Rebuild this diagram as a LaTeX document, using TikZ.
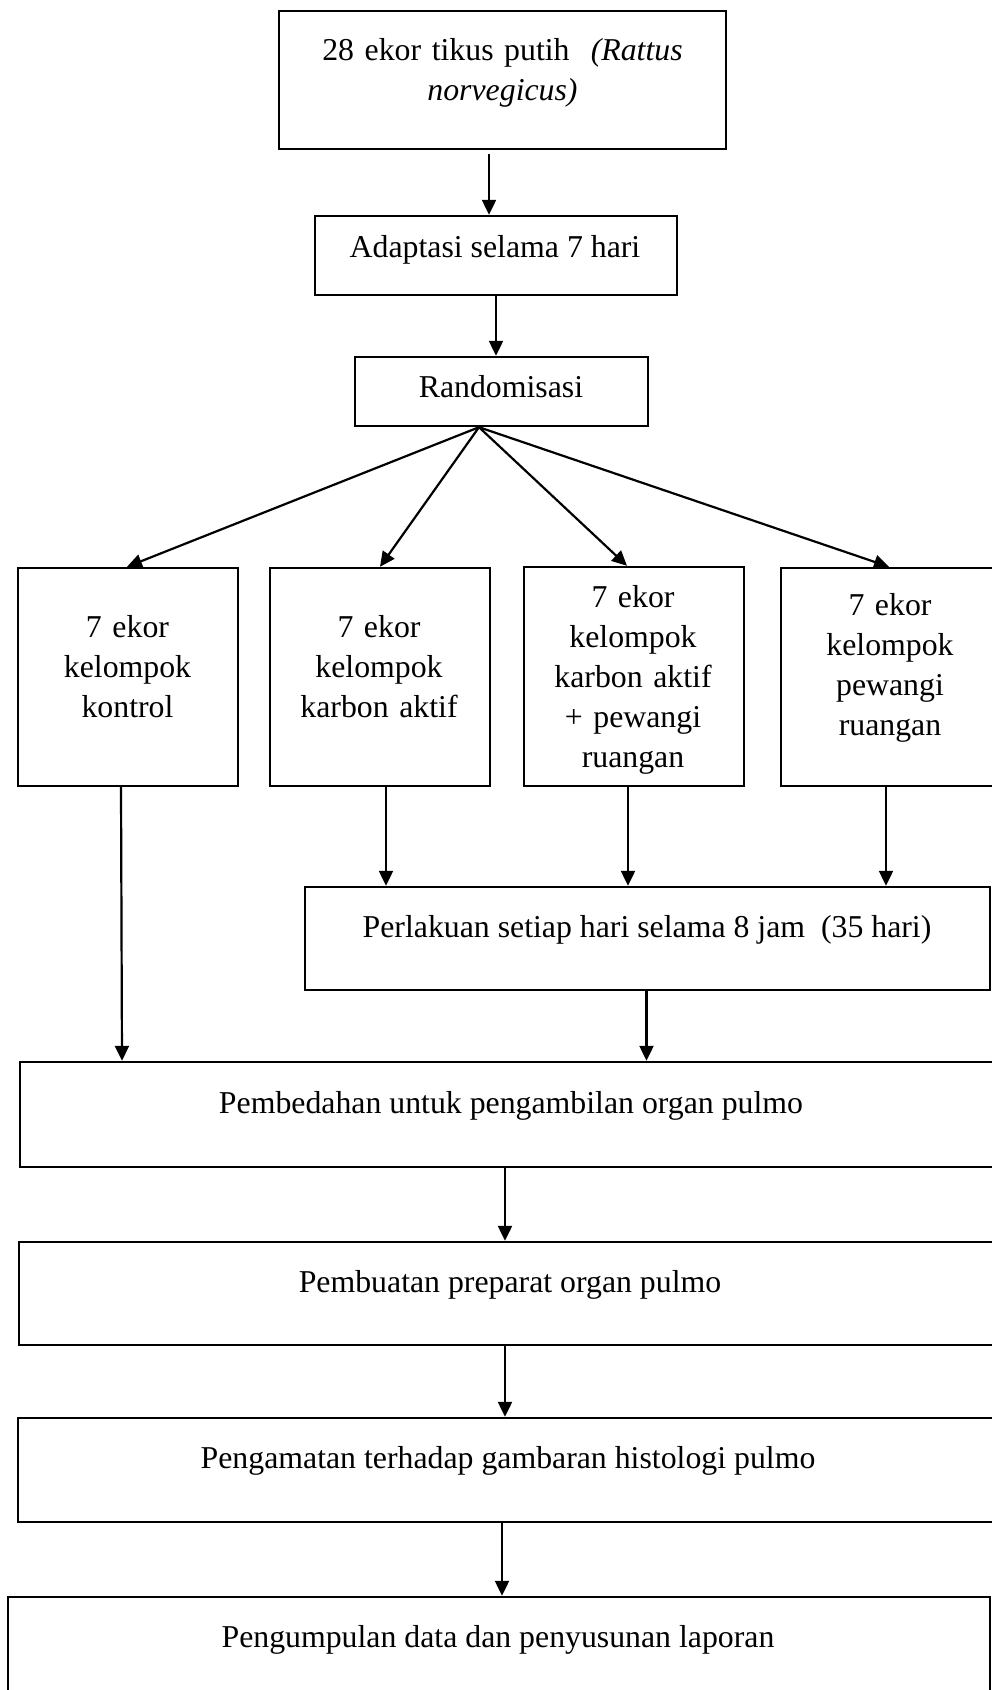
\documentclass[tikz,border=0pt]{standalone}
\usepackage{fontspec}
\setmainfont{Liberation Serif}
\usetikzlibrary{arrows.meta}
\tikzset{
  box/.style={draw, line width=2.4pt, inner sep=0pt},
  txt/.style={inner sep=0pt, font=\fontsize{31.8pt}{40pt}\selectfont},
  mtxt/.style={txt, text width=#1, align=center},
  arr/.style={line width=2.2pt, -{Triangle[length=15pt,width=14pt]}}
}
\begin{document}
\begin{tikzpicture}[x=1pt,y=-1pt]
\useasboundingbox (0,0) rectangle (992,1690);
\clip (0,0) rectangle (992,1690);
\fill[white] (0,0) rectangle (992,1690);
% boxes
\node[box, minimum width=447pt, minimum height=138pt] (n1) at (502.5,80) {};
\node[box, minimum width=362pt, minimum height=79pt] (n2) at (496,255.5) {};
\node[box, minimum width=293pt, minimum height=69pt] (n3) at (501.5,391.5) {};
\node[box, minimum width=220pt, minimum height=218pt] (gA) at (128,677) {};
\node[box, minimum width=220pt, minimum height=218pt] (gB) at (380,677) {};
\node[box, minimum width=220pt, minimum height=219pt] (gC) at (634,676.5) {};
\node[box, minimum width=220pt, minimum height=218pt] (gD) at (891,677) {};
\node[box, minimum width=685pt, minimum height=103pt] (pP) at (647.5,938.5) {};
\node[box, minimum width=982pt, minimum height=105pt] (pE) at (511,1114.5) {};
\node[box, minimum width=982pt, minimum height=103pt] (pF) at (510,1293.5) {};
\node[box, minimum width=981pt, minimum height=104pt] (pG) at (508.5,1470) {};
\node[box, minimum width=982pt, minimum height=113pt] (pH) at (499,1653.5) {};
% texts
\node[mtxt=430pt, anchor=base] (t1) at (502.5,60) {28 ekor tikus putih\ \ \textit{(Rattus}\\\textit{norvegicus)}};
\node[txt, anchor=base] (t2) at (495,257) {Adaptasi selama 7 hari};
\node[txt, anchor=base] (t3) at (501,397) {Randomisasi};
\node[mtxt=200pt, anchor=base] (tA) at (127.5,637) {7 ekor\\kelompok\\kontrol};
\node[mtxt=200pt, anchor=base] (tB) at (379,637) {7 ekor\\kelompok\\karbon aktif};
\node[mtxt=200pt, anchor=base] (tC) at (633,607) {7 ekor\\kelompok\\karbon aktif\\+ pewangi\\ruangan};
\node[mtxt=200pt, anchor=base] (tD) at (890,615) {7 ekor\\kelompok\\pewangi\\ruangan};
\node[txt, anchor=base] (tP) at (647,937) {Perlakuan setiap hari selama 8 jam\ \ (35 hari)};
\node[txt, anchor=base] (tE) at (511,1113) {Pembedahan untuk pengambilan organ pulmo};
\node[txt, anchor=base] (tF) at (510,1292) {Pembuatan preparat organ pulmo};
\node[txt, anchor=base] (tG) at (508,1468) {Pengamatan terhadap gambaran histologi pulmo};
\node[txt, anchor=base] (tH) at (498,1647) {Pengumpulan data dan penyusunan laporan};
% connectors
\draw[arr] ([xshift=-13.5pt,yshift=-4pt]n1.south) -- ([xshift=-13.5pt]n1.south |- n2.north);
\draw[arr] (n2.south) -- (n2.south |- n3.north);
\draw[arr] ([xshift=-22.5pt]n3.south) -- ([xshift=-1pt]gA.north);
\draw[arr] ([xshift=-22.5pt]n3.south) -- (gB.north);
\draw[arr] ([xshift=-22.5pt]n3.south) -- ([xshift=-7pt]gC.north);
\draw[arr] ([xshift=-22.5pt]n3.south) -- ([xshift=-2pt]gD.north);
\draw[arr] ([xshift=-7pt]gA.south) -- ([xshift=-6pt]gA.south |- pE.north);
\draw[arr] ([xshift=6pt]gB.south) -- ([xshift=6pt]gB.south |- pP.north);
\draw[arr] ([xshift=-6pt]gC.south) -- ([xshift=-6pt]gC.south |- pP.north);
\draw[arr] ([xshift=-5pt]gD.south) -- ([xshift=-5pt]gD.south |- pP.north);
\draw[arr] ([xshift=-1pt]pP.south) -- ([xshift=-1pt]pP.south |- pE.north);
\draw[arr] ([xshift=-6pt]pE.south) -- ([xshift=-6pt]pE.south |- pF.north);
\draw[arr] ([xshift=-5pt]pF.south) -- ([xshift=-5pt]pF.south |- pG.north);
\draw[arr] ([xshift=-6.5pt]pG.south) -- ([xshift=-6.5pt]pG.south |- pH.north);
\end{tikzpicture}
\end{document}
